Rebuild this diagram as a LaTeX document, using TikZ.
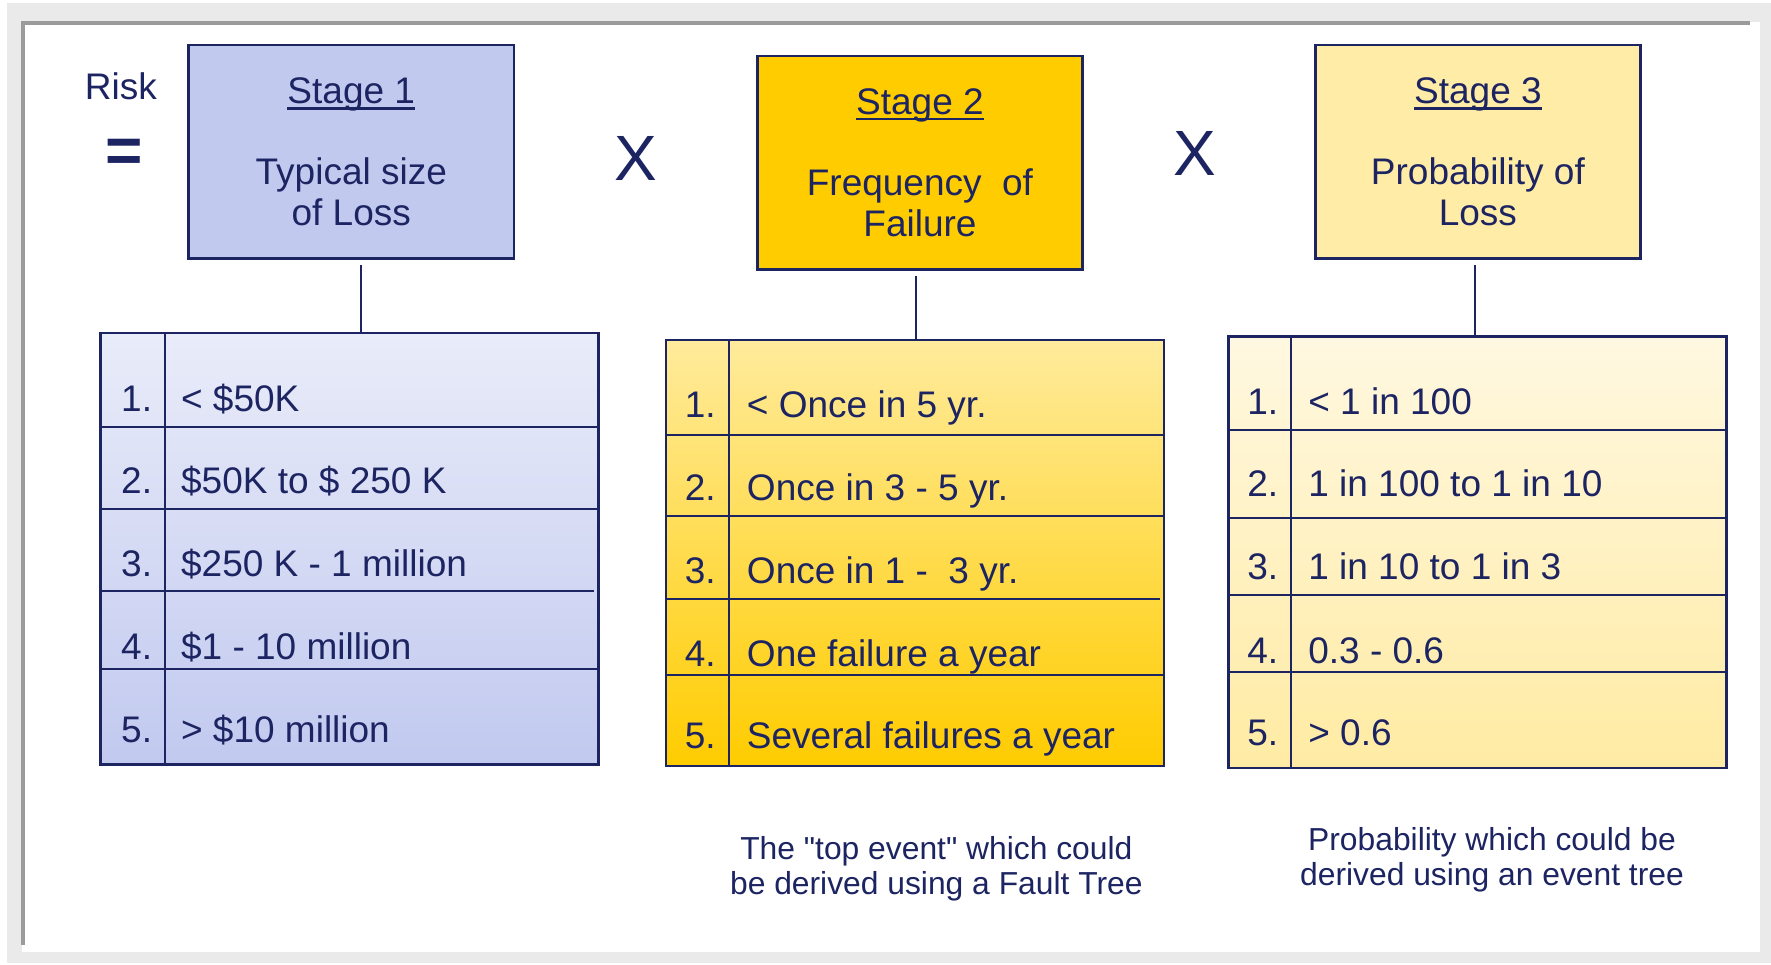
\documentclass[tikz,border=0pt]{standalone}
\usepackage{fontspec}
\setmainfont{Liberation Sans}
\usepackage{tikz}
\usetikzlibrary{positioning,calc}
\definecolor{navy}{RGB}{28,36,98}
\definecolor{framebg}{RGB}{234,234,234}
\definecolor{frameline}{RGB}{155,155,155}
\definecolor{sOne}{RGB}{193,201,239}
\definecolor{sTwo}{RGB}{255,204,0}
\definecolor{sThree}{RGB}{255,236,166}
\definecolor{tOneTop}{RGB}{233,236,249}
\definecolor{tTwoTop}{RGB}{255,235,156}
\definecolor{tThreeTop}{RGB}{255,248,225}
\definecolor{tThreeBot}{RGB}{255,235,163}
\newcommand{\Body}{\fontsize{18.5}{20.3}\selectfont}
\newcommand{\Uline}[1]{\setbox0\hbox{#1}\rlap{\vrule height -1.6pt depth 2.9pt width \wd0}\box0}

\begin{document}
\begin{tikzpicture}[x=0.5647pt, y=-0.5647pt, text=navy, inner sep=0pt,
		stage/.style={draw=navy, line width=1.2pt, minimum width=162.6pt, minimum height=106.7pt, align=center, font=\Body},
		tab/.style={draw=navy, line width=1.2pt, minimum width=249pt},
		rule/.style={draw=navy, line width=1pt},
		link/.style={draw=navy, line width=1pt, shorten <=2.8pt},
		num/.style={anchor=base east, font=\Body},
		item/.style={anchor=base west, font=\Body},
		big/.style={font=\fontsize{32}{36}\selectfont},
		note/.style={align=center, font=\fontsize{15.9}{17.5}\selectfont}]
		\useasboundingbox (0,0) rectangle (1568,854);
		\fill[framebg] (6,3) rectangle (1568,853);
		\fill[white] (19.5,19.5) rectangle (1558,843);
		\draw[frameline, line width=2pt] (20,837) -- (20,20) -- (1549,20);

		\node[font=\Body] (risk) at (107,76) {Risk};
		\node[big] (eq) at (110,138) {\textbf{=}};
		\node[big] (x1) at (563,140) {X};
		\node[big] (x2) at (1058,136) {X};

		\node[stage, fill=sOne] (s1) at (311,134.5) {\Uline{Stage 1}\\[20.3pt]Typical size\\of Loss};
		\node[stage, fill=sTwo] (s2) at (814.5,144) {\Uline{Stage 2}\\[20.3pt]Frequency\ \ of\\Failure};
		\node[stage, fill=sThree] (s3) at (1308.5,134.5) {\Uline{Stage 3}\\[20.3pt]Probability of\\Loss};

		\node[tab, top color=tOneTop, bottom color=sOne, minimum height=215.7pt] (t1) at (309.5,486) {};
		\node[tab, top color=tTwoTop, bottom color=sTwo, minimum height=212.9pt] (t2) at (810,489.5) {};
		\node[tab, top color=tThreeTop, bottom color=tThreeBot, minimum height=215.7pt] (t3) at (1308,489) {};

		\draw[link] ([xshift=5.1pt]s1.south) -- ([xshift=5.1pt]s1.south |- t1.north);
		\draw[link] ([xshift=-2pt]s2.south) -- ([xshift=-2pt]s2.south |- t2.north);
		\draw[link] ([xshift=-1.4pt]s3.south) -- ([xshift=-1.4pt]s3.south |- t3.north);

		\draw[rule] (146,295) -- (146,677);
		\foreach \y/\e in {378/530,451/530,523/526,592/530} \draw[rule] (89,\y) -- (\e,\y);
		\foreach \b/\t [count=\i] in {364/{< \$50K}, 437/{\$50K to \$ 250 K}, 510/{\$250 K - 1 million}, 584/{\$1 - 10 million}, 657/{> \$10 million}}
		{\node[num] (t1n\i) at (135,\b) {\i.}; \node[item] (t1i\i) at (160,\b) {\t};}

		\draw[rule] (645,301) -- (645,678);
		\foreach \y/\e in {385/1031,457/1031,530/1027,598/1031} \draw[rule] (589,\y) -- (\e,\y);
		\foreach \b/\t [count=\i] in {370/{< Once in 5 yr.}, 443/{Once in 3 - 5 yr.}, 517/{Once in 1 -\ \ 3 yr.}, 590/{One failure a year}, 663/{Several failures a year}}
		{\node[num] (t2n\i) at (634,\b) {\i.}; \node[item] (t2i\i) at (661,\b) {\t};}

		\draw[rule] (1143,298) -- (1143,680);
		\foreach \y in {381,459,527,595} \draw[rule] (1087,\y) -- (1529,\y);
		\foreach \b/\t [count=\i] in {367/{< 1 in 100}, 440/{1 in 100 to 1 in 10}, 513/{1 in 10 to 1 in 3}, 587/{0.3 - 0.6}, 660/{> 0.6}}
		{\node[num] (t3n\i) at (1132,\b) {\i.}; \node[item] (t3i\i) at (1158,\b) {\t};}

		\node[note] (n2) at (829,769) {The \textquotedbl top event\textquotedbl{} which could\\be derived using a Fault Tree};
		\node[note] (n3) at (1321,761) {Probability which could be\\derived using an event tree};
	\end{tikzpicture}
\end{document}
